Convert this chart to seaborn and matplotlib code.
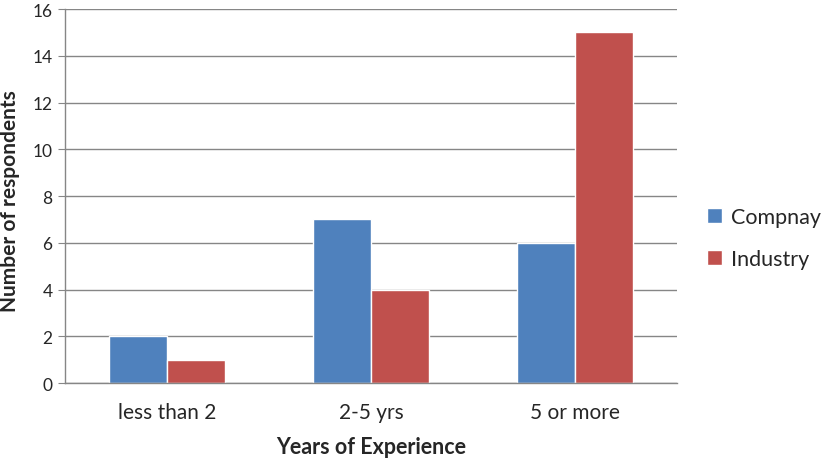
import matplotlib
matplotlib.use("Agg")
import matplotlib.pyplot as plt
import seaborn as sns
import pandas as pd

# data
categories = ['less than 2', '2-5 yrs', '5 or more']
company = [2, 7, 6]
industry = [1, 4, 15]
series_names = ['Compnay', 'Industry']
colors = ['#4F81BD', '#C0504D']

df = pd.DataFrame({
    'Experience': categories * 2,
    'Count': company + industry,
    'Group': [series_names[0]] * 3 + [series_names[1]] * 3,
})

sns.set_style("white")
plt.rcParams['font.family'] = ['Lato', 'DejaVu Sans']

fig = plt.figure(figsize=(8.29, 4.64), dpi=100)
ax = fig.add_axes([0.0784, 0.1724, 0.7383, 0.806])

sns.barplot(data=df, x='Experience', y='Count', hue='Group',
            palette=colors, width=0.57, saturation=1, ax=ax)

ax.set_ylim(0, 16)
ax.set_yticks(range(0, 17, 2))
ax.yaxis.grid(True, color='#868686', linewidth=1)
ax.set_axisbelow(True)

for side in ['top', 'right']:
    ax.spines[side].set_visible(False)
for side in ['left', 'bottom']:
    ax.spines[side].set_color('#868686')
    ax.spines[side].set_linewidth(1)

ax.tick_params(axis='y', left=True, length=5, color='#868686', labelsize=12.5, pad=4)
ax.tick_params(axis='x', bottom=False, labelsize=15, pad=10)

ax.set_ylabel('Number of respondents', fontsize=15, fontweight='bold')
ax.yaxis.set_label_coords(-0.073, 0.49)
ax.set_xlabel('Years of Experience', fontsize=15.5, fontweight='bold', labelpad=10)

ax.legend(loc='center left', bbox_to_anchor=(1.0, 0.388), frameon=False,
          fontsize=15.5, handlelength=0.7, handleheight=0.7, handletextpad=0.4,
          labelspacing=1.0, borderaxespad=1.0)

fig.savefig('out.png', dpi=100)
